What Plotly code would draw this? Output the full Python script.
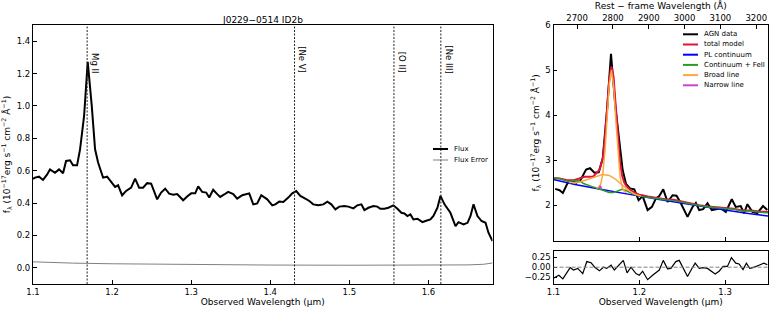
import plotly.graph_objects as go

W, H = 773, 312
Z1 = 4.176  # 1 + z

# ---------------- left panel: observed spectrum ----------------
obs_wave = [1.1000,1.1025,1.1076,1.1127,1.1177,1.1215,1.1278,1.1329,1.1380,1.1418,
            1.1468,1.1506,1.1557,1.1595,1.1646,1.1692,1.1743,1.1785,1.1823,1.1886,
            1.1937,1.2000,1.2038,1.2076,1.2127,1.2177,1.2241,1.2291,1.2342,1.2392,
            1.2443,1.2494,1.2570,1.2620,1.2671,1.2722,1.2772,1.2823,1.2899,1.2949,
            1.3000,1.3051,1.3089,1.3139,1.3190,1.3228,1.3278,1.3329,1.3367,1.3418,
            1.3468,1.3532,1.3582,1.3646,1.3696,1.3734,1.3785,1.3835,1.3886,1.3937,
            1.3962,1.4025,1.4063,1.4114,1.4165,1.4228,1.4278,1.4329,1.4380,1.4443,
            1.4494,1.4544,1.4608,1.4671,1.4722,1.4772,1.4823,1.4873,1.4937,1.4987,
            1.5051,1.5101,1.5152,1.5190,1.5241,1.5304,1.5354,1.5392,1.5443,1.5494,
            1.5557,1.5608,1.5658,1.5696,1.5734,1.5772,1.5810,1.5861,1.5924,1.5962,
            1.6025,1.6063,1.6114,1.6152,1.6203,1.6278,1.6342,1.6380,1.6443,1.6494,
            1.6532,1.6570,1.6620,1.6671,1.6722,1.6759,1.6810]
obs_flux = [0.550,0.557,0.563,0.543,0.575,0.608,0.587,0.608,0.584,0.660,
            0.664,0.633,0.633,0.732,0.939,1.272,1.000,0.732,0.650,0.557,
            0.563,0.526,0.500,0.510,0.448,0.475,0.495,0.551,0.495,0.495,
            0.523,0.520,0.423,0.465,0.489,0.458,0.452,0.456,0.417,0.440,
            0.460,0.460,0.503,0.469,0.465,0.434,0.482,0.455,0.438,0.453,
            0.469,0.456,0.427,0.448,0.455,0.460,0.392,0.398,0.448,0.434,
            0.423,0.386,0.392,0.409,0.407,0.434,0.460,0.474,0.444,0.427,
            0.413,0.392,0.386,0.392,0.409,0.392,0.361,0.378,0.382,0.378,
            0.367,0.386,0.392,0.357,0.371,0.382,0.378,0.365,0.365,0.371,
            0.386,0.365,0.340,0.336,0.320,0.330,0.299,0.303,0.282,0.289,
            0.299,0.320,0.371,0.444,0.392,0.340,0.258,0.282,0.268,0.278,
            0.320,0.392,0.320,0.289,0.278,0.217,0.165]
err_wave = [1.10, 1.12, 1.15, 1.20, 1.25, 1.30, 1.40, 1.50, 1.60, 1.65, 1.67, 1.681]
err_flux = [0.037, 0.032, 0.029, 0.025, 0.022, 0.020, 0.017, 0.016, 0.016, 0.018, 0.022, 0.030]

line_names = ["Mg II", "[Ne V]", "[O II]", "[Ne III]"]
line_rest = [2798.0, 3426.0, 3727.0, 3869.0]   # Angstrom

# ---------------- right panel: Mg II fit ----------------
agn_wave = [1.1020,1.1070,1.1109,1.1167,1.1217,1.1264,1.1310,1.1380,1.1426,1.1477,
            1.1527,1.1574,1.1624,1.1670,1.1721,1.1767,1.1806,1.1845,1.1892,1.1942,
            1.1992,1.2039,1.2097,1.2147,1.2194,1.2233,1.2279,1.2330,1.2388,1.2434,
            1.2484,1.2562,1.2620,1.2659,1.2698,1.2744,1.2795,1.2845,1.2891,1.2950,
            1.3008,1.3078,1.3124,1.3182,1.3221,1.3260,1.3318,1.3376,1.3442,1.3492]
agn_flux = [2.36,2.33,2.27,2.50,2.54,2.50,2.54,2.79,2.82,2.72,
            2.73,3.04,4.11,5.36,4.19,3.37,2.78,2.47,2.37,2.35,
            2.11,2.20,1.89,1.96,2.15,2.20,2.35,2.07,2.22,2.21,
            2.04,1.74,1.96,2.05,1.89,1.91,2.04,1.89,1.91,1.93,
            1.85,2.13,1.96,1.98,1.82,2.02,1.85,1.82,1.98,1.89]

model_wave = [1.100,1.107,1.115,1.1225,1.130,1.136,1.146,1.1535,1.1575,1.160,
              1.1625,1.165,1.1675,1.170,1.1725,1.175,1.1775,1.180,1.1825,1.185,
              1.190,1.195,1.200,1.210,1.220,1.230,1.240,1.250,1.260,1.270,
              1.280,1.290,1.300,1.310,1.320,1.330,1.340,1.350]
model_flux = [2.60,2.59,2.56,2.55,2.59,2.63,2.63,2.78,3.04,3.50,
              4.15,4.80,5.08,4.85,4.20,3.45,2.95,2.65,2.50,2.42,
              2.33,2.27,2.23,2.19,2.16,2.13,2.12,2.08,2.03,2.00,
              1.97,1.95,1.93,1.92,1.88,1.88,1.86,1.85]

pl_wave = [1.100,1.125,1.150,1.175,1.200,1.225,1.250,1.275,1.300,1.325,1.350]
pl_flux = [2.57,2.46,2.37,2.28,2.20,2.12,2.04,1.96,1.89,1.82,1.76]

fe_wave = [1.100,1.107,1.113,1.118,1.124,1.130,1.135,1.140,1.145,1.150,
           1.155,1.160,1.165,1.170,1.175,1.180,1.185,1.190,1.195,1.200,
           1.210,1.220,1.230,1.240,1.250,1.260,1.270,1.280,1.290,1.300,
           1.310,1.320,1.330,1.340,1.350]
fe_flux = [2.60,2.59,2.55,2.52,2.55,2.54,2.48,2.44,2.41,2.38,
           2.35,2.31,2.28,2.28,2.32,2.35,2.32,2.27,2.23,2.20,
           2.17,2.14,2.12,2.10,2.06,2.02,1.99,1.96,1.94,1.92,
           1.91,1.87,1.87,1.84,1.83]

broad1_wave = [1.118,1.125,1.132,1.140,1.148,1.157,1.165,1.172,1.180,1.187,1.194,1.202]
broad1_flux = [2.50,2.50,2.52,2.57,2.63,2.68,2.66,2.58,2.45,2.33,2.25,2.20]
broad2_wave = [1.1500,1.1525,1.1550,1.1575,1.1600,1.1625,1.1650,1.1675,1.1700,
               1.1725,1.1750,1.1775,1.1800,1.1825,1.1850]
broad2_flux = [2.38,2.40,2.46,2.70,3.20,3.95,4.68,5.00,4.66,3.92,3.16,2.65,2.40,2.31,2.28]

narrow_wave = [1.1530, 1.1545, 1.1560]
narrow_flux = [2.37, 2.43, 2.37]

res_wave = [1.1004,1.1062,1.1109,1.1194,1.1233,1.1283,1.1341,1.1388,1.1438,1.1485,
            1.1535,1.1581,1.1620,1.1671,1.1709,1.1760,1.1814,1.1857,1.1903,1.1961,
            1.2000,1.2039,1.2097,1.2155,1.2202,1.2233,1.2279,1.2329,1.2368,1.2426,
            1.2465,1.2516,1.2562,1.2612,1.2651,1.2698,1.2744,1.2795,1.2884,1.2930,
            1.2977,1.3027,1.3074,1.3124,1.3163,1.3209,1.3248,1.3287,1.3326,1.3395,
            1.3453,1.3492]
res_flux = [-0.27,-0.20,-0.29,-0.01,-0.07,-0.03,-0.16,0.14,0.11,-0.01,
            -0.09,0.00,-0.03,0.05,-0.07,0.04,0.17,-0.14,0.00,-0.16,
            -0.20,-0.10,-0.31,-0.20,-0.13,-0.07,0.17,-0.04,-0.03,0.14,
            0.17,-0.03,-0.23,-0.04,0.10,-0.03,-0.01,-0.03,-0.17,-0.10,
            0.02,0.02,0.24,0.10,0.08,-0.06,0.10,-0.03,-0.01,0.05,
            0.10,0.06]

left_ticks = [1.1, 1.2, 1.3, 1.4, 1.5, 1.6]
right_ticks = [1.1, 1.2, 1.3]
rest_ticks = [2700, 2800, 2900, 3000, 3100, 3200]

C_RED, C_BLUE, C_GREEN, C_ORANGE, C_MAG = "#dc143c", "#0000ff", "#2a9a2a", "#ffa640", "#cc44cc"
FONT = "DejaVu Sans"

fig = go.Figure()
# left
fig.add_trace(go.Scatter(x=err_wave, y=err_flux, mode="lines", line=dict(color="#808080", width=1),
                         xaxis="x", yaxis="y", showlegend=False, hoverinfo="skip"))
fig.add_trace(go.Scatter(x=obs_wave, y=obs_flux, mode="lines", line=dict(color="black", width=2),
                         xaxis="x", yaxis="y", showlegend=False, hoverinfo="skip"))
# right main
for xs, ys, col, wd in [(agn_wave, agn_flux, "black", 2),
                        (model_wave, model_flux, C_RED, 2),
                        (pl_wave, pl_flux, C_BLUE, 1.5),
                        (fe_wave, fe_flux, C_GREEN, 1.5),
                        (broad1_wave, broad1_flux, C_ORANGE, 1.5),
                        (broad2_wave, broad2_flux, C_ORANGE, 1.5)]:
    fig.add_trace(go.Scatter(x=xs, y=ys, mode="lines", line=dict(color=col, width=wd),
                             xaxis="x2", yaxis="y2", showlegend=False, hoverinfo="skip"))
# narrow line drawn last, on the rest-frame (top) axis
fig.add_trace(go.Scatter(x=[w * 1e4 / Z1 for w in narrow_wave], y=narrow_flux, mode="lines",
                         line=dict(color=C_MAG, width=1.5), xaxis="x4", yaxis="y2",
                         showlegend=False, hoverinfo="skip"))
# residuals
fig.add_trace(go.Scatter(x=res_wave, y=res_flux, mode="lines", line=dict(color="black", width=1.2),
                         xaxis="x3", yaxis="y3", showlegend=False, hoverinfo="skip"))

def px(xp):
    return xp / W

def py(yp):
    return 1 - yp / H

ylab = "f<sub>λ</sub> (10<sup>−17</sup>erg s<sup>−1</sup> cm<sup>−2</sup> Å<sup>−1</sup>)"
ax_common = dict(showgrid=False, zeroline=False, showline=True, linecolor="black", linewidth=1.2,
                 mirror=True, ticks="inside", ticklen=3.5, tickwidth=1, tickcolor="black",
                 automargin=False,
                 tickfont=dict(size=8.5, color="black", family=FONT))

shapes = []
annotations = []
for name, rest in zip(line_names, line_rest):
    obs = rest * Z1 / 1e4
    shapes.append(dict(type="line", xref="x", yref="y domain", x0=obs, x1=obs, y0=0, y1=1,
                       line=dict(color="#222222", width=1, dash="2px,1.5px")))
    annotations.append(dict(x=obs, y=1.19, xref="x", yref="y", text=name, textangle=90,
                            showarrow=False, xanchor="left", yanchor="bottom", xshift=1,
                            font=dict(size=8.5, family=FONT, color="black")))
shapes.append(dict(type="line", xref="x3 domain", yref="y3", x0=0, x1=1, y0=0, y1=0,
                   line=dict(color="#808080", width=1, dash="4px,2px")))

annotations.append(dict(x=(px(33) + px(492.5)) / 2, y=py(20), xref="paper", yref="paper",
                        text="J0229−0514 ID2b", showarrow=False, xanchor="center", yanchor="middle",
                        font=dict(size=9, family=FONT, color="black")))

# legends (drawn compactly like matplotlib)
left_leg = [("Flux", "black", 2), ("Flux Error", "#808080", 1)]
for i, (name, col, wd) in enumerate(left_leg):
    yy = 149 + 11 * i
    shapes.append(dict(type="line", xref="paper", yref="paper", x0=px(433), x1=px(448),
                       y0=py(yy), y1=py(yy), line=dict(color=col, width=wd)))
    annotations.append(dict(x=px(452), y=py(yy), xref="paper", yref="paper", text=name,
                            showarrow=False, xanchor="left", yanchor="middle",
                            font=dict(size=7, family=FONT, color="black")))
right_leg = [("AGN data", "black"), ("total model", C_RED), ("PL continuum", C_BLUE),
             ("Continuum + FeII", C_GREEN), ("Broad line", C_ORANGE), ("Narrow line", C_MAG)]
for i, (name, col) in enumerate(right_leg):
    yy = 34.3 + 10.2 * i
    shapes.append(dict(type="line", xref="paper", yref="paper", x0=px(683), x1=px(698),
                       y0=py(yy), y1=py(yy), line=dict(color=col, width=2)))
    annotations.append(dict(x=px(702), y=py(yy), xref="paper", yref="paper", text=name,
                            showarrow=False, xanchor="left", yanchor="middle",
                            font=dict(size=7, family=FONT, color="black")))

tfont = dict(size=9, family=FONT, color="black")
fig.update_layout(
    width=W, height=H, margin=dict(l=0, r=0, t=0, b=0, autoexpand=False),
    paper_bgcolor="white", plot_bgcolor="white", showlegend=False,
    font=dict(family=FONT, color="black"),
    xaxis=dict(ax_common, domain=[px(33), px(492.5)], range=[1.1, 1.681], anchor="y",
               tickvals=left_ticks, tickformat=".1f",
               title=dict(text="Observed Wavelength (µm)", font=tfont, standoff=2)),
    yaxis=dict(ax_common, domain=[py(284), py(25)], range=[-0.1, 1.5], anchor="x",
               dtick=0.2, tick0=0, tickformat=".1f",
               title=dict(text=ylab, font=tfont, standoff=4)),
    xaxis2=dict(ax_common, domain=[px(553.5), px(768)], range=[1.1, 1.35], anchor="y2",
                tickvals=right_ticks, showticklabels=False),
    yaxis2=dict(ax_common, domain=[py(240.7), py(25)], range=[1.21, 6], anchor="x2",
                dtick=1, tick0=0,
                title=dict(text=ylab, font=tfont, standoff=4)),
    xaxis3=dict(ax_common, domain=[px(553.5), px(768)], range=[1.1, 1.35], anchor="y3",
                tickvals=right_ticks, tickformat=".1f",
                title=dict(text="Observed Wavelength (µm)", font=tfont, standoff=2)),
    yaxis3=dict(ax_common, domain=[py(283.7), py(250.7)], range=[-0.41, 0.41], anchor="x3",
                tickvals=[-0.25, 0, 0.25], tickformat=".2f"),
    xaxis4=dict(ax_common, overlaying="x2", side="top", anchor="y2", mirror=False,
                range=[1.1e4 / Z1, 1.35e4 / Z1], tickvals=rest_ticks,
                title=dict(text="Rest − frame Wavelength (Å)", font=tfont, standoff=2)),
    shapes=shapes, annotations=annotations,
)

fig.write_html("out.html", config={"displayModeBar": False},
               post_script="document.body.style.margin='0';document.body.style.padding='0';")
